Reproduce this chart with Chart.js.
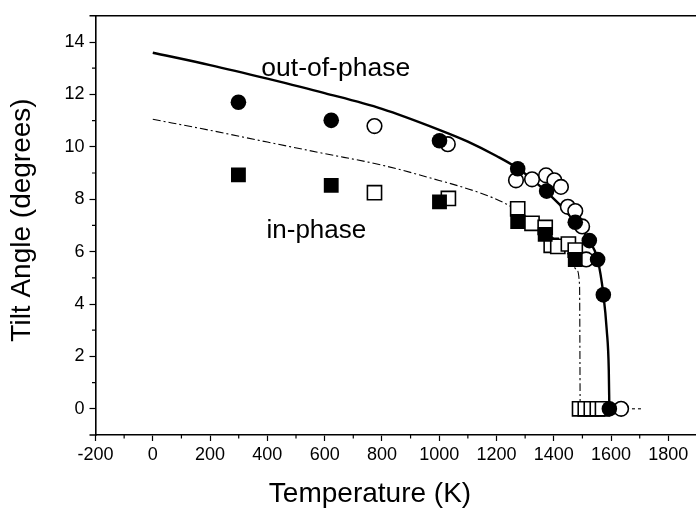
<!DOCTYPE html>
<html><head><meta charset="utf-8">
<script src="https://cdn.jsdelivr.net/npm/chart.js@4"></script>
<style>
html,body{margin:0;padding:0;background:#fff;overflow:hidden;width:696px;height:508px}
#wrap{position:relative;width:720px;height:508px}
</style>
</head><body><div id="wrap"><canvas id="c" width="720" height="508"></canvas></div>
<script>
// ---- data ----
const outFilledT = [299, 623, 1001, 1274, 1375, 1475, 1524, 1553, 1573, 1594];
const outFilledV = [11.70, 11.01, 10.23, 9.16, 8.31, 7.12, 6.42, 5.70, 4.35, 0];
const outOpenT = [774, 1030, 1268, 1324, 1373, 1402, 1425, 1449, 1475, 1499, 1513, 1635];
const outOpenV = [10.79, 10.10, 8.72, 8.76, 8.91, 8.72, 8.47, 7.71, 7.55, 6.96, 5.70, 0];
const inFilledT = [299, 623, 1001, 1274, 1370, 1475];
const inFilledV = [8.93, 8.53, 7.90, 7.15, 6.66, 5.70];
const inOpenT = [774, 1032, 1274, 1324, 1370, 1391, 1414, 1451, 1475, 1490, 1510, 1531, 1552, 1570];
const inOpenV = [8.25, 8.03, 7.63, 7.08, 6.92, 6.24, 6.20, 6.29, 6.06, 0, 0, 0, 0, 0];
const outFitT = [0, 200, 400, 600, 800, 1000, 1100, 1200, 1274, 1350, 1420, 1475, 1524, 1553, 1573, 1585, 1592, 1594];
const outFitV = [13.59, 13.12, 12.6, 12.05, 11.45, 10.65, 10.2, 9.65, 9.18, 8.52, 7.8, 7.12, 6.42, 5.70, 4.38, 2.99, 1.48, 0];
const inFitT = [0, 200, 400, 600, 800, 966, 1140, 1234, 1274, 1338, 1400, 1450, 1480, 1490, 1492];
const inFitV = [11.05, 10.63, 10.18, 9.74, 9.3, 8.82, 8.25, 7.82, 7.55, 7.08, 6.5, 5.9, 5.3, 4.7, 0];
const zeroLineT = [1652, 1705];
const zeroLineV = [0, 0];
const xMajorTicks = [-200, 0, 200, 400, 600, 800, 1000, 1200, 1400, 1600, 1800];
const xMinorTicks = [-100, 100, 300, 500, 700, 900, 1100, 1300, 1500, 1700];
const yMajorTicks = [0, 2, 4, 6, 8, 10, 12, 14];
const yMinorTicks = [1, 3, 5, 7, 9, 11, 13];
const xTitle = 'Temperature (K)';
const yTitle = 'Tilt Angle (degrees)';
const outLabel = 'out-of-phase';
const inLabel = 'in-phase';

const pts = (xs, ys) => xs.map((v, i) => ({x: v, y: ys[i]}));
const FONT = '"Liberation Sans", Arial, sans-serif';

const decor = {
  id: 'decor',
  afterDraw(chart) {
    const {ctx, chartArea: a, scales: {x, y}} = chart;
    ctx.save();
    ctx.strokeStyle = '#000';
    ctx.lineWidth = 1.2;
    ctx.beginPath();
    xMinorTicks.forEach(v => { const p = x.getPixelForValue(v); ctx.moveTo(p, a.bottom); ctx.lineTo(p, a.bottom + 3.5); });
    yMinorTicks.forEach(v => { const p = y.getPixelForValue(v); ctx.moveTo(a.left, p); ctx.lineTo(a.left - 3.5, p); });
    ctx.stroke();
    ctx.lineWidth = 1.6;
    ctx.beginPath();
    ctx.moveTo(a.left - 6, a.top); ctx.lineTo(a.right + 2, a.top);
    ctx.moveTo(a.left - 6, a.bottom); ctx.lineTo(a.left, a.bottom);
    ctx.stroke();
    ctx.fillStyle = '#000';
    ctx.font = '28px ' + FONT;
    ctx.textAlign = 'center';
    ctx.textBaseline = 'middle';
    ctx.fillText(xTitle, 370, 494);
    ctx.save();
    ctx.translate(22, 220);
    ctx.rotate(-Math.PI / 2);
    ctx.fillText(yTitle, 0, 0);
    ctx.restore();
    ctx.textAlign = 'left';
    ctx.textBaseline = 'alphabetic';
    ctx.font = '26.5px ' + FONT;
    ctx.fillText(outLabel, x.getPixelForValue(379), y.getPixelForValue(12.72));
    ctx.font = '26px ' + FONT;
    ctx.fillText(inLabel, x.getPixelForValue(397), y.getPixelForValue(6.52));
    ctx.restore();
  }
};

new Chart(document.getElementById('c'), {
  type: 'scatter',
  data: {
    datasets: [
      {data: pts(outFilledT, outFilledV), order: 0, pointStyle: 'circle', pointRadius: 7.8, backgroundColor: '#000', borderColor: '#000', borderWidth: 0},
      {data: pts(inFilledT, inFilledV), order: 1, pointStyle: 'rect', pointRadius: 10.5, backgroundColor: '#000', borderColor: '#000', borderWidth: 0},
      {data: pts(outOpenT, outOpenV), order: 2, pointStyle: 'circle', pointRadius: 7.3, backgroundColor: '#fff', borderColor: '#000', borderWidth: 1.6},
      {data: pts(inOpenT, inOpenV), order: 3, pointStyle: 'rect', pointRadius: 10, backgroundColor: '#fff', borderColor: '#000', borderWidth: 1.6},
      {data: pts(outFitT, outFitV), order: 4, showLine: true, pointRadius: 0, borderColor: '#000', borderWidth: 2.4, cubicInterpolationMode: 'monotone', fill: false},
      {data: pts(inFitT, inFitV), order: 5, showLine: true, pointRadius: 0, borderColor: '#000', borderWidth: 1.1, borderDash: [8, 3, 2, 3], cubicInterpolationMode: 'monotone', fill: false},
      {data: pts(zeroLineT, zeroLineV), order: 6, showLine: true, pointRadius: 0, borderColor: '#000', borderWidth: 1.1, borderDash: [3, 3], fill: false}
    ]
  },
  options: {
    responsive: false,
    animation: false,
    events: [],
    layout: {padding: {top: 11, right: 23, left: 0, bottom: 0}},
    plugins: {legend: {display: false}, tooltip: {enabled: false}},
    scales: {
      x: {
        type: 'linear', min: -200, max: 1900,
        afterFit: s => { s.height = 73; },
        afterBuildTicks: s => { s.ticks = xMajorTicks.map(v => ({value: v})); },
        ticks: {color: '#000', padding: 3, font: {size: 18, family: FONT}, maxRotation: 0, autoSkip: false, callback: v => String(v)},
        grid: {display: true, drawOnChartArea: false, drawTicks: true, tickLength: 6, tickWidth: 1.2, tickColor: '#000', color: '#000'},
        border: {display: true, color: '#000', width: 1.6}
      },
      y: {
        type: 'linear', min: -1, max: 15,
        afterFit: s => { s.width = 95.5; },
        afterBuildTicks: s => { s.ticks = yMajorTicks.map(v => ({value: v})); },
        ticks: {color: '#000', padding: 5, font: {size: 18, family: FONT}, autoSkip: false, callback: v => String(v)},
        grid: {display: true, drawOnChartArea: false, drawTicks: true, tickLength: 6, tickWidth: 1.2, tickColor: '#000', color: '#000'},
        border: {display: true, color: '#000', width: 1.6}
      }
    }
  },
  plugins: [decor]
});
</script>
</body></html>
